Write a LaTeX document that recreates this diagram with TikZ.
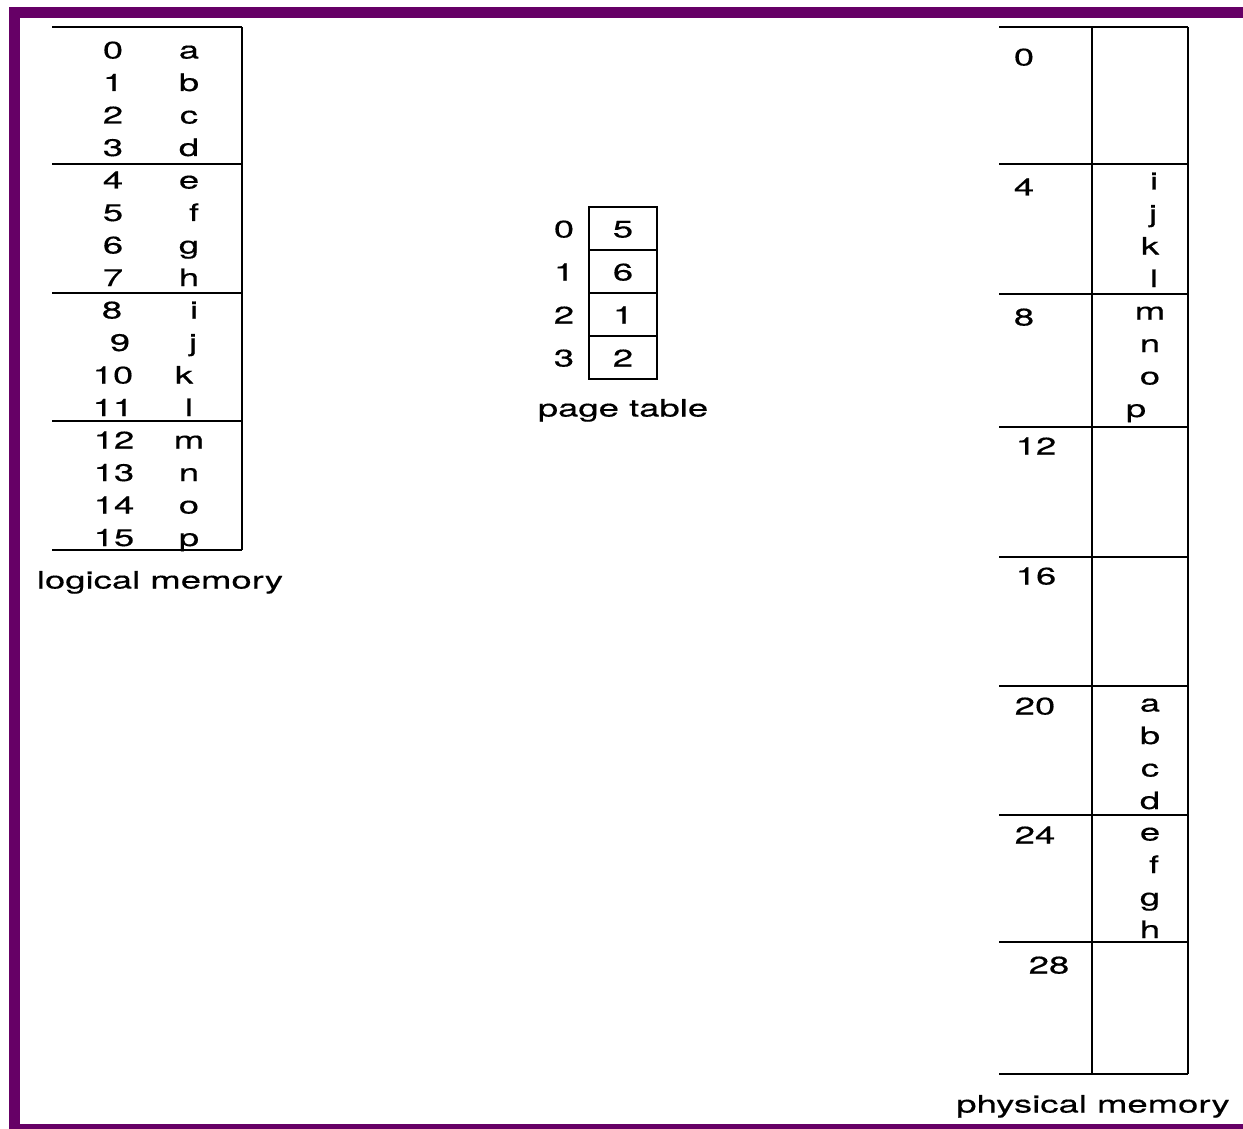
\documentclass[tikz,border=0pt]{standalone}
\usepackage{fontspec}
\setmainfont{TeX Gyre Heros}[FakeStretch=1.52, FakeBold=0.4]
\definecolor{framepurple}{RGB}{102,0,102}
\tikzset{
  lbl/.style={inner sep=0pt, text height=17pt, text depth=0pt, font=\fontsize{24}{29}\selectfont},
  memline/.style={line width=1.3pt},
}

\begin{document}
\begin{tikzpicture}[x=1pt,y=-1pt]
  \useasboundingbox (0,0) rectangle (1243,1129);
  % purple frame
  \fill[framepurple] (9,7) rectangle (1243,18);
  \fill[framepurple] (9,7) rectangle (20,1129);
  \fill[framepurple] (9,1124) rectangle (1243,1129);

  % logical memory
  \foreach \y in {27,164,293,421,550}
    \draw[memline] (52,\y) -- (242,\y);
  \draw[memline] (242,27) -- (242,550);
  \foreach \n/\xn/\c/\xc [count=\i from 0] in {0/113/a/189, 1/113/b/189, 2/113/c/189, 3/113/d/189,
      4/113/e/189, 5/113/f/194, 6/113/g/189, 7/113/h/189, 8/112/i/194, 9/120/j/193, 10/113/k/184,
      11/113/l/189, 12/114/m/189, 13/114/n/189, 14/114/o/189, 15/114/p/189} {
    \node[lbl] (ln\n) at (\xn, 50+32.5*\i) {\n};
    \node[lbl] (lc\n) at (\xc, 50+32.5*\i) {\c};
  }
  \node[lbl] (logical) at (160,580) {logical memory};

  % page table
  \draw[memline] (589,207) rectangle (657,379);
  \foreach \y in {250,293,336}
    \draw[memline] (589,\y) -- (657,\y);
  \foreach \f [count=\i from 0] in {5,6,1,2} {
    \node[lbl] (pi\i) at (564, 229+43*\i) {\i};
    \node[lbl] (pf\i) at (623, 229+43*\i) {\f};
  }
  \node[lbl] (ptable) at (623,408) {page table};

  % physical memory
  \foreach \y in {27,164,294,427,557,686,815,942,1074}
    \draw[memline] (999,\y) -- (1188,\y);
  \draw[memline] (1092,27) -- (1092,1074);
  \draw[memline] (1188,27) -- (1188,1074);
  \foreach \a/\xa/\ya in {0/1024/57, 4/1024/187, 8/1024/317, 12/1036/446,
      16/1036/576, 20/1035/706, 24/1035/835, 28/1049/965}
    \node[lbl] (pa\a) at (\xa,\ya) {\a};
  \foreach \c/\xc/\yc in {i/1154/181, j/1153/213.5, k/1150/246, l/1154/278.5,
      m/1150/311, n/1150/343.5, o/1150/376, p/1136/408.5,
      a/1150/703, b/1150/735.5, c/1150/768, d/1150/800.5,
      e/1150/832, f/1154/864.5, g/1150/897, h/1150/929.5}
    \node[lbl] (pc\c) at (\xc,\yc) {\c};
  \node[lbl] (physical) at (1093,1104) {physical memory};
\end{tikzpicture}
\end{document}
